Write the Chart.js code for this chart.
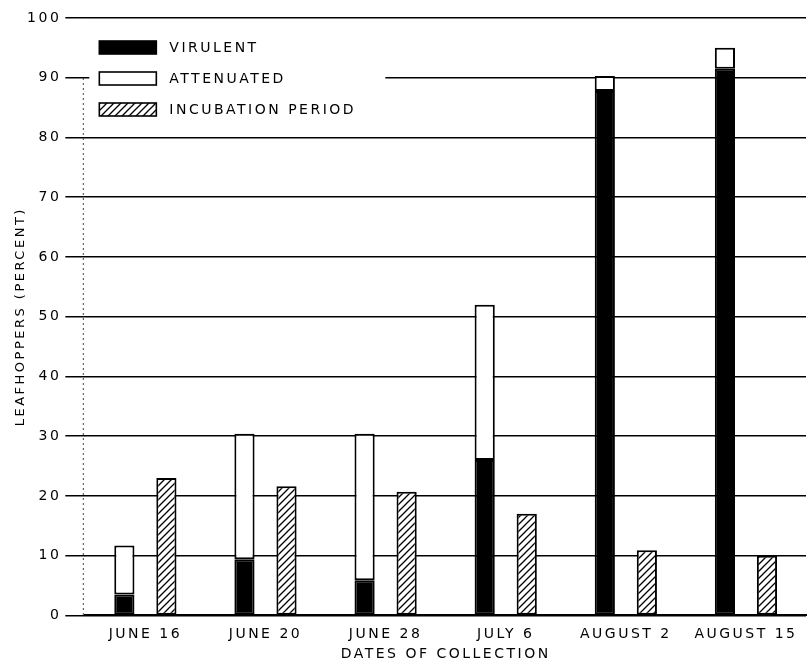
<!DOCTYPE html>
<html>
<head>
<meta charset="utf-8">
<script src="https://cdn.jsdelivr.net/npm/chart.js@4"></script>
<style>
  html, body { margin: 0; background: #fff; }
  #wrap { width: 809px; height: 663px; }
</style>
</head>
<body>
<div id="wrap"><canvas id="chart" width="809" height="663"></canvas></div>
<script>
const dates = ['JUNE 16', 'JUNE 20', 'JUNE 28', 'JULY 6', 'AUGUST 2', 'AUGUST 15'];
const virulent = [3.5, 9.4, 5.9, 26, 87.8, 91.5];
const attenuated = [8.2, 21, 24.5, 26, 2.5, 3.5];
const incubation = [23, 21.6, 20.7, 17, 10.9, 10];
const legendLabels = ['VIRULENT', 'ATTENUATED', 'INCUBATION PERIOD'];

const FONT = "'DejaVu Sans', sans-serif";

// diagonal hatch for the incubation bars
function hatchPattern() {
  const c = document.createElement('canvas');
  c.width = 7; c.height = 7;
  const g = c.getContext('2d');
  g.fillStyle = '#fff';
  g.fillRect(0, 0, 7, 7);
  g.strokeStyle = '#000';
  g.lineWidth = 1.3;
  g.beginPath();
  g.moveTo(0, 7); g.lineTo(7, 0);
  g.moveTo(-1, 1); g.lineTo(1, -1);
  g.moveTo(6, 8); g.lineTo(8, 6);
  g.stroke();
  return g.createPattern(c, 'repeat');
}

const ctx = document.getElementById('chart').getContext('2d');
const hatch = hatchPattern();

const spacing = {
  id: 'spacing',
  beforeDraw(chart) { chart.ctx.letterSpacing = '2.5px'; }
};

// faint dotted left axis + legend over a white patch
const boxLegend = {
  id: 'boxLegend',
  beforeDatasetsDraw(chart) {
    const { ctx, chartArea } = chart;
    ctx.save();
    ctx.strokeStyle = '#444';
    ctx.lineWidth = 1;
    ctx.setLineDash([2, 3]);
    ctx.beginPath();
    ctx.moveTo(chartArea.left - 2, chartArea.top + 60);
    ctx.lineTo(chartArea.left - 2, chartArea.bottom);
    ctx.stroke();
    ctx.setLineDash([]);

    const x0 = chartArea.left + 14;
    const y0 = chartArea.top + 23;
    ctx.fillStyle = '#fff';
    ctx.fillRect(chartArea.left + 4, y0 - 6, 296, 95);
    ctx.font = '14px ' + FONT;
    ctx.letterSpacing = '2.5px';
    ctx.textBaseline = 'middle';
    chart.data.datasets.forEach((ds, i) => {
      const y = y0 + i * 31;
      ctx.fillStyle = ds.backgroundColor;
      ctx.fillRect(x0, y, 57, 13);
      ctx.strokeStyle = '#000';
      ctx.lineWidth = 1.6;
      ctx.strokeRect(x0, y, 57, 13);
      ctx.fillStyle = '#000';
      ctx.fillText(legendLabels[i], x0 + 70, y + 7);
    });
    ctx.restore();
  }
};

new Chart(ctx, {
  type: 'bar',
  data: {
    labels: dates,
    datasets: [
      { label: legendLabels[0], data: virulent, stack: 'infected', backgroundColor: '#000' },
      { label: legendLabels[1], data: attenuated, stack: 'infected', backgroundColor: '#fff' },
      { label: legendLabels[2], data: incubation, stack: 'incubation', backgroundColor: hatch },
    ],
  },
  options: {
    responsive: false,
    animation: false,
    layout: { padding: { top: 18, right: 3, left: 13, bottom: 0 } },
    datasets: {
      bar: {
        borderColor: '#000',
        borderWidth: 2,
        borderSkipped: false,
        categoryPercentage: 0.7,
        barPercentage: 0.48,
      },
    },
    plugins: { legend: { display: false }, tooltip: { enabled: false } },
    scales: {
      x: {
        stacked: true,
        grid: { display: false },
        border: { color: '#000', width: 2 },
        ticks: { color: '#000', font: { family: FONT, size: 14 }, padding: 3 },
        title: {
          display: true,
          text: 'DATES OF COLLECTION',
          color: '#000',
          font: { family: FONT, size: 14 },
          padding: { top: 0, bottom: 0 },
        },
      },
      y: {
        stacked: true,
        min: 0,
        max: 100,
        grid: { color: '#000', lineWidth: 1.5, tickLength: 20 },
        border: { display: false },
        ticks: {
          stepSize: 10,
          color: '#000',
          font: { family: FONT, size: 14 },
          padding: 4,
        },
        title: {
          display: true,
          text: 'LEAFHOPPERS (PERCENT)',
          color: '#000',
          font: { family: FONT, size: 13 },
          padding: { top: 0, bottom: 2 },
        },
      },
    },
  },
  plugins: [spacing, boxLegend],
});
</script>
</body>
</html>
